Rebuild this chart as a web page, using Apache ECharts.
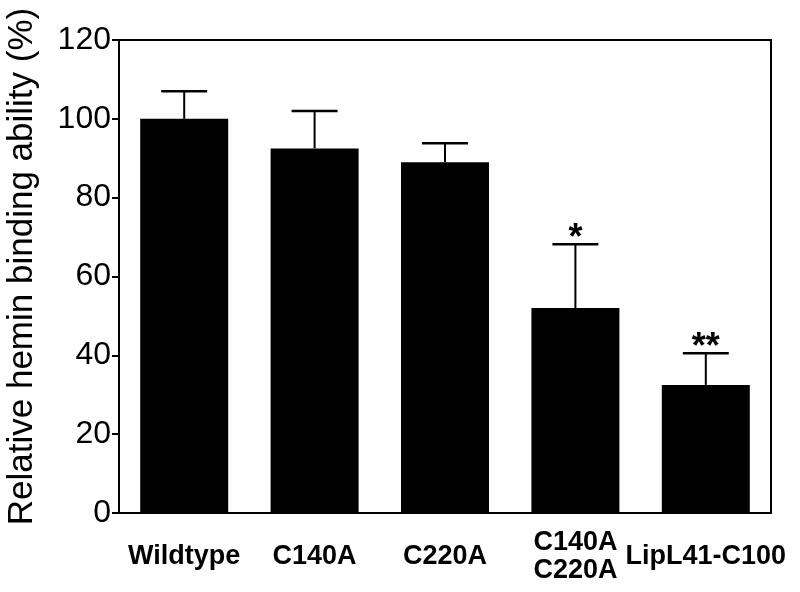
<!DOCTYPE html>
<html>
<head>
<meta charset="utf-8">
<script src="https://cdn.jsdelivr.net/npm/echarts@6/dist/echarts.min.js"></script>
<style>html,body{margin:0;padding:0;background:#fff}#c{width:800px;height:592px}</style>
</head>
<body>
<div id="c"></div>
<script>
var categories = ['Wildtype', 'C140A', 'C220A', 'C140A\nC220A', 'LipL41-C100'];
var values = [100, 92.5, 89, 52, 32.5];
var errors = [7, 9.5, 4.8, 16.2, 8];
var stars = ['', '', '', '*', '**'];
var yTicks = [0, 20, 40, 60, 80, 100, 120];

var chart = echarts.init(document.getElementById('c'), null, {renderer: 'canvas'});
var errData = values.map(function (v, i) { return [i, v, v + errors[i], stars[i]]; });

chart.setOption({
  animation: false,
  backgroundColor: '#fff',
  grid: {left: 119, right: 29, top: 40, bottom: 79, containLabel: false, outerBoundsMode: 'none', show: true, borderColor: '#000', borderWidth: 2, backgroundColor: 'transparent'},
  xAxis: {
    type: 'category',
    data: categories,
    axisLine: {lineStyle: {color: '#000', width: 2}},
    axisTick: {alignWithLabel: true, length: 8, lineStyle: {color: '#000', width: 2}},
    axisLabel: {color: '#000', fontFamily: 'Liberation Sans, Arial', fontWeight: 'bold', fontSize: 27, lineHeight: 28, margin: 44, verticalAlign: 'middle', interval: 0, hideOverlap: false}
  },
  yAxis: {
    type: 'value',
    min: 0, max: 120, interval: 20,
    name: 'Relative hemin binding ability (%)',
    nameLocation: 'middle',
    nameGap: 79,
    nameTextStyle: {color: '#000', fontFamily: 'Liberation Sans, Arial', fontSize: 35, padding: [0, 0, 0, 20]},
    axisLine: {show: true, lineStyle: {color: '#000', width: 2}},
    axisTick: {show: true, length: 7, lineStyle: {color: '#000', width: 2}},
    axisLabel: {color: '#000', fontFamily: 'Liberation Sans, Arial', fontSize: 32, margin: 8,
      formatter: function (v) { return yTicks.indexOf(v) >= 0 ? String(v) : ''; }},
    splitLine: {show: false}
  },
  series: [
    {
      type: 'bar',
      data: values,
      barWidth: 88,
      itemStyle: {color: '#000'}
    },
    {
      type: 'custom',
      data: errData,
      z: 3,
      renderItem: function (params, api) {
        var i = api.value(0);
        var base = api.coord([i, api.value(1)]);
        var top = api.coord([i, api.value(2)]);
        var hw = 23;
        var children = [
          {type: 'line', shape: {x1: base[0], y1: base[1], x2: top[0], y2: top[1]}, style: {stroke: '#000', lineWidth: 2}},
          {type: 'line', shape: {x1: top[0] - hw, y1: top[1], x2: top[0] + hw, y2: top[1]}, style: {stroke: '#000', lineWidth: 2.5}}
        ];
        var s = stars[params.dataIndex];
        if (s) {
          children.push({type: 'text', x: top[0], y: top[1] + 13, style: {text: s, fill: '#000', font: 'bold 36px "Liberation Sans", Arial', align: 'center', verticalAlign: 'bottom'}});
        }
        return {type: 'group', children: children};
      }
    }
  ]
});
</script>
</body>
</html>
